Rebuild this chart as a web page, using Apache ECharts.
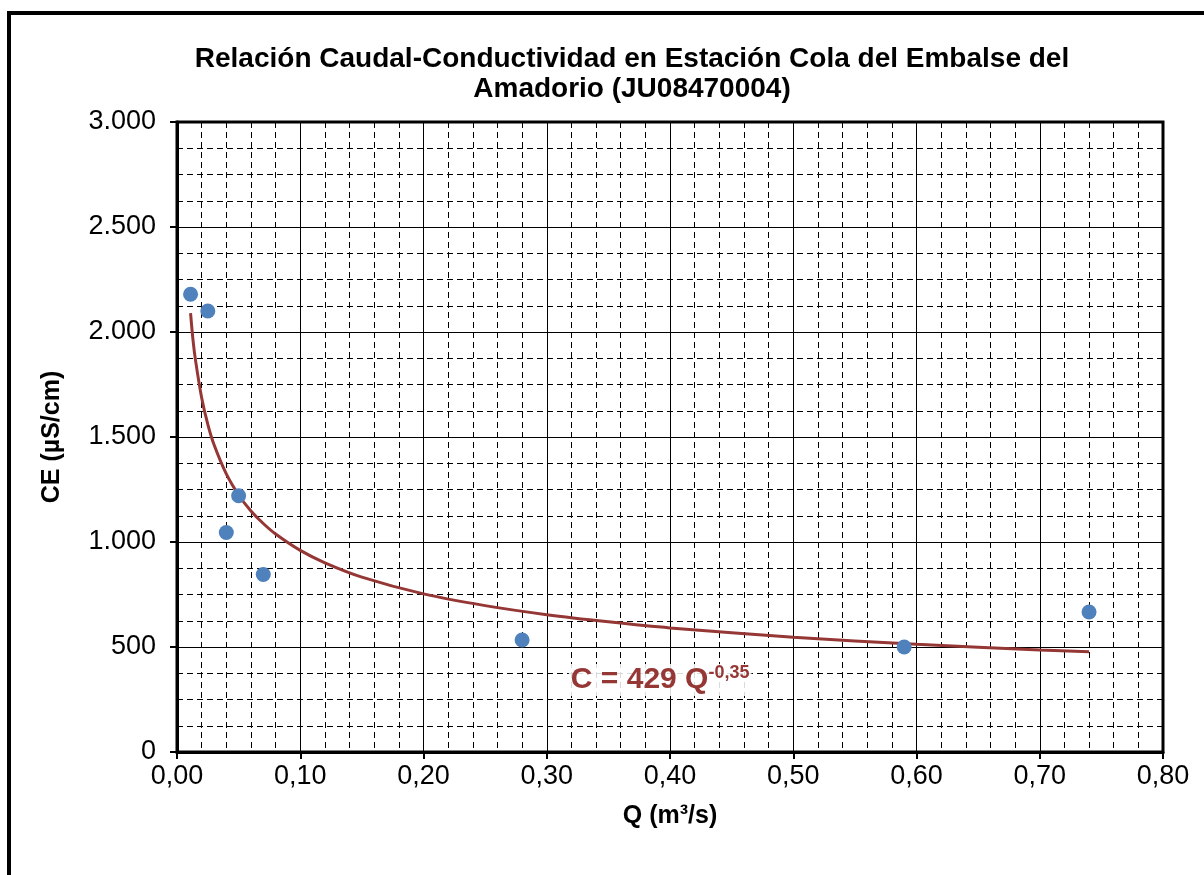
<!DOCTYPE html>
<html>
<head>
<meta charset="utf-8">
<script src="https://cdn.jsdelivr.net/npm/echarts@6/dist/echarts.min.js"></script>
<style>html,body{margin:0;padding:0;background:#fff}#c{width:1204px;height:875px}</style>
</head>
<body>
<div id="c"></div>
<script>
// Observed samples: discharge Q (m3/s) and conductivity CE (uS/cm)
const obsQ  = [0.011, 0.025, 0.050, 0.040, 0.070, 0.280, 0.590, 0.740];
const obsCE = [2180, 2100, 1220, 1045, 845, 533, 500, 667];
// Potential trend line
const trendQ  = [0.011, 0.013, 0.015, 0.020, 0.025, 0.030, 0.040, 0.050, 0.060, 0.070, 0.080, 0.100, 0.120, 0.150, 0.200, 0.250, 0.300, 0.350, 0.400, 0.500, 0.600, 0.700, 0.740];
const trendCE = [2090, 1961, 1866, 1687, 1560, 1464, 1324, 1224, 1148, 1088, 1038, 960, 901, 833, 753, 697, 654, 620, 591, 547, 513, 486, 477];
// Equation label anchor (data coordinates)
const eqQ = [0.392];
const eqCE = [343];
const titleLines = ['Relación Caudal-Conductividad en Estación Cola del Embalse del', 'Amadorio (JU08470004)'];
const xName = 'Q (m³/s)';
const yName = 'CE (µS/cm)';

const FONT = "'Liberation Sans', Arial, sans-serif";
const chart = echarts.init(document.getElementById('c'), null, {renderer: 'canvas'});
const zip = (a, b) => a.map((v, i) => [v, b[i]]);

chart.setOption({
  animation: false,
  backgroundColor: '#fff',
  title: {
    text: titleLines.join('\n'),
    left: 627, top: 39, textAlign: 'center',
    textStyle: {fontFamily: FONT, fontWeight: 'bold', fontSize: 28, lineHeight: 30, color: '#000'}
  },
  graphic: [{
    type: 'rect', silent: true,
    shape: {x: 9, y: 13, width: 1260, height: 900},
    style: {fill: 'none', stroke: '#000', lineWidth: 4}
  }],
  grid: {left: 177, top: 122, right: 41, bottom: 123, show: true, borderColor: '#000', borderWidth: 3, containLabel: false},
  xAxis: {
    type: 'value', min: 0, max: 0.8, interval: 0.1,
    name: xName, nameLocation: 'middle', nameGap: 52,
    nameTextStyle: {fontFamily: FONT, fontWeight: 'bold', fontSize: 25, color: '#000'},
    axisLine: {show: true, onZero: false, lineStyle: {color: '#000', width: 3}},
    axisTick: {show: true, inside: false, length: 7, lineStyle: {color: '#000', width: 2}},
    axisLabel: {fontFamily: FONT, fontSize: 27, color: '#000', margin: 11,
      formatter: v => v.toFixed(2).replace('.', ',')},
    splitLine: {show: true, lineStyle: {color: '#000', width: 1}},
    minorTick: {show: false, splitNumber: 5},
    minorSplitLine: {show: true, lineStyle: {color: '#000', width: 1, type: [6, 4]}}
  },
  yAxis: {
    type: 'value', min: 0, max: 3000, interval: 500,
    name: yName, nameLocation: 'middle', nameGap: 112, nameRotate: 90,
    nameTextStyle: {fontFamily: FONT, fontWeight: 'bold', fontSize: 25, color: '#000'},
    axisLine: {show: true, onZero: false, lineStyle: {color: '#000', width: 3}},
    axisTick: {show: true, inside: false, length: 7, lineStyle: {color: '#000', width: 2}},
    axisLabel: {fontFamily: FONT, fontSize: 27, color: '#000', margin: 21,
      formatter: v => String(v).replace(/\B(?=(\d{3})+(?!\d))/g, '.')},
    splitLine: {show: true, lineStyle: {color: '#000', width: 1}},
    minorTick: {show: false, splitNumber: 4},
    minorSplitLine: {show: true, lineStyle: {color: '#000', width: 1, type: [6, 4]}}
  },
  series: [
    {
      name: 'Tendencia', type: 'line', data: zip(trendQ, trendCE),
      showSymbol: false, smooth: 0.3, z: 3,
      lineStyle: {color: '#953735', width: 3}
    },
    {
      name: 'CE', type: 'scatter', data: zip(obsQ, obsCE),
      symbol: 'circle', symbolSize: 15, z: 4,
      itemStyle: {color: '#4F81BD', opacity: 1}
    },
    {
      name: 'Ecuación', type: 'scatter', data: zip(eqQ, eqCE),
      symbolSize: 0, z: 5, silent: true,
      itemStyle: {opacity: 1},
      label: {
        show: true, position: 'inside', opacity: 1,
        backgroundColor: 'rgba(255,255,255,0.85)', padding: [0, 2],
        formatter: '{a|C = 429 Q}{b|-0,35}',
        rich: {
          a: {fontFamily: FONT, fontWeight: 'bold', fontSize: 30, lineHeight: 32, color: '#953735'},
          b: {fontFamily: FONT, fontWeight: 'bold', fontSize: 18, lineHeight: 20, color: '#953735', verticalAlign: 'top'}
        }
      }
    }
  ]
});
</script>
</body>
</html>
